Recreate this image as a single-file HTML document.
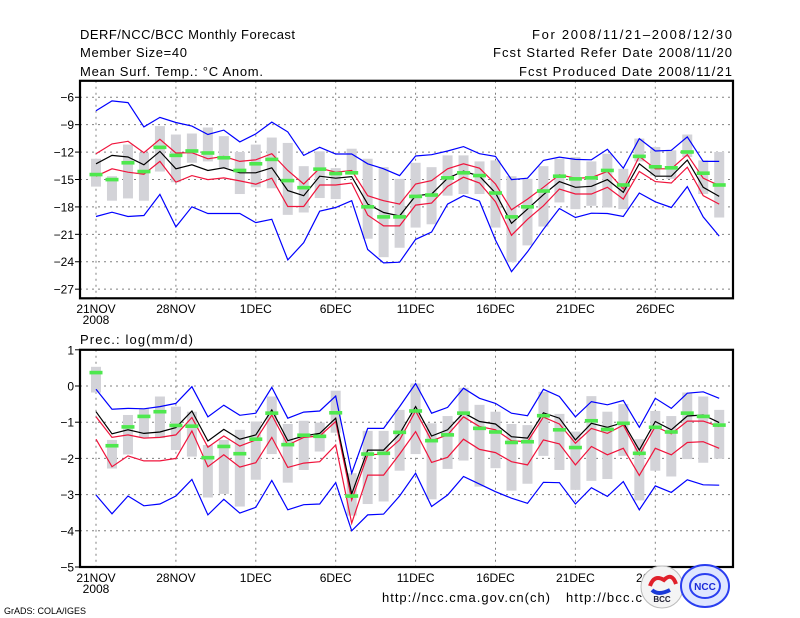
<!DOCTYPE html>
<html><head><meta charset="utf-8"><style>
html,body{margin:0;padding:0;background:#fff;}
svg{display:block;font-family:"Liberation Sans",sans-serif;}
</style></head><body>
<svg id="chart" width="800" height="618" viewBox="0 0 800 618" xmlns="http://www.w3.org/2000/svg">
<rect x="0" y="0" width="800" height="618" fill="#fff"/>
<g font-size="13" fill="#000">
<text x="80" y="39" textLength="215">DERF/NCC/BCC Monthly Forecast</text>
<text x="80" y="57" textLength="107">Member Size=40</text>
<text x="80" y="76" textLength="183">Mean Surf. Temp.: °C Anom.</text>
<text x="732" y="39" text-anchor="end" textLength="200">For 2008/11/21–2008/12/30</text>
<text x="732" y="57" text-anchor="end" textLength="239">Fcst Started Refer Date 2008/11/20</text>
<text x="732" y="76" text-anchor="end" textLength="213">Fcst Produced Date 2008/11/21</text>
<text x="80" y="344" textLength="113">Prec.: log(mm/d)</text>
<text x="382" y="602" textLength="168">http://ncc.cma.gov.cn(ch)</text>
<text x="566" y="602" textLength="76">http://bcc.c</text>
<text x="4" y="614" font-size="9">GrADS: COLA/IGES</text>
</g>
<g id="top"></g>
<g id="bot"></g>
<g>
<circle cx="662" cy="587" r="21" fill="#f4f4f4" stroke="#bbb"/>
<path d="M650 586 q4 -12 14 -6 q8 -8 12 4" stroke="#e0202a" stroke-width="4" fill="none"/>
<path d="M652 590 q6 6 18 0" stroke="#1a3ad8" stroke-width="4" fill="none"/>
<text x="662" y="602" font-size="8" text-anchor="middle" font-weight="bold" fill="#223">BCC</text>
</g>
<g>
<ellipse cx="705" cy="586" rx="24" ry="21" fill="#dfe6ff" stroke="#2a3ef0" stroke-width="2"/>
<ellipse cx="705" cy="586" rx="15" ry="12" fill="none" stroke="#2a3ef0" stroke-width="2"/>
<text x="705" y="590" font-size="10" text-anchor="middle" font-weight="bold" fill="#1a2ad8">NCC</text>
</g>
</svg>
<script>
// ---- Temperature panel data (°C anomaly) ----
const xTickLabels = ["21NOV","28NOV","1DEC","6DEC","11DEC","16DEC","21DEC","26DEC"];
const tTicks = [-6,-9,-12,-15,-18,-21,-24,-27];
const tBlueHi = [-7.47,-6.40,-6.59,-9.24,-8.21,-8.76,-9.16,-10.08,-9.60,-10.89,-10.01,-8.72,-9.79,-12.36,-11.48,-12.21,-12.21,-13.28,-13.83,-14.57,-12.43,-12.29,-11.88,-11.40,-12.18,-12.47,-15.01,-14.86,-12.91,-12.55,-12.80,-12.84,-11.70,-13.76,-10.52,-11.88,-11.81,-10.34,-13.02,-13.02];
const tBlueLo = [-19.05,-18.58,-19.05,-18.94,-16.63,-20.19,-17.99,-18.72,-18.72,-18.72,-19.72,-19.35,-23.80,-21.92,-18.47,-18.06,-17.32,-22.66,-24.13,-24.05,-21.55,-20.74,-17.69,-16.77,-17.36,-21.63,-25.08,-22.91,-20.45,-18.17,-19.16,-18.69,-18.72,-19.05,-16.48,-17.44,-18.06,-15.78,-19.09,-21.19];
const tRedHi = [-12.18,-11.11,-10.82,-12.07,-10.60,-12.10,-12.07,-12.73,-12.47,-13.02,-12.84,-12.18,-14.01,-15.49,-13.76,-14.20,-14.01,-16.77,-17.32,-17.69,-15.49,-15.12,-13.83,-13.28,-13.76,-15.49,-18.32,-17.14,-15.85,-14.49,-14.86,-14.79,-14.13,-16.04,-12.47,-13.83,-13.83,-12.29,-14.86,-15.67];
const tMean = [-13.28,-12.36,-12.54,-13.39,-11.92,-13.83,-13.39,-14.01,-13.72,-14.27,-14.27,-13.72,-16.22,-16.77,-14.64,-14.86,-14.68,-17.69,-18.61,-18.98,-16.77,-16.59,-14.86,-14.09,-14.64,-16.48,-19.79,-18.24,-16.66,-15.23,-15.85,-15.74,-15.01,-16.40,-13.28,-14.64,-14.64,-12.88,-15.85,-16.85];
const tRedLo = [-14.64,-13.83,-14.20,-14.42,-13.02,-15.30,-14.57,-15.01,-14.82,-15.15,-15.52,-14.86,-17.95,-17.95,-15.60,-15.60,-15.38,-18.90,-20.08,-20.08,-17.80,-17.58,-15.74,-14.75,-15.38,-17.43,-21.11,-19.35,-17.88,-16.04,-16.59,-16.59,-15.85,-17.14,-14.13,-15.23,-15.38,-13.65,-16.77,-17.69];
const tGreen = [-14.46,-15.01,-13.17,-14.13,-11.48,-12.36,-11.88,-12.10,-12.62,-14.01,-13.28,-12.80,-15.12,-15.89,-13.87,-14.35,-14.27,-17.99,-19.09,-19.09,-16.85,-16.70,-14.82,-14.27,-14.57,-16.48,-19.09,-17.99,-16.26,-14.64,-14.93,-14.82,-14.01,-15.60,-12.47,-13.61,-13.72,-11.99,-14.31,-15.60];
const tBoxHi = [-12.73,-14.64,-11.18,-12.07,-9.16,-10.08,-9.97,-9.31,-10.26,-11.99,-11.18,-10.41,-11.00,-13.54,-11.92,-13.76,-11.63,-12.73,-13.65,-14.93,-13.17,-13.65,-12.36,-12.36,-13.02,-12.91,-14.64,-14.93,-13.54,-12.73,-12.54,-13.02,-12.18,-13.83,-10.52,-11.44,-11.81,-10.08,-12.91,-11.99];
const tBoxLo = [-15.78,-17.32,-17.07,-17.32,-14.13,-15.30,-13.17,-13.02,-13.72,-16.59,-15.85,-15.96,-18.87,-18.61,-17.03,-17.14,-14.20,-21.48,-23.50,-22.47,-20.26,-19.90,-16.77,-16.59,-16.59,-20.26,-24.05,-22.21,-20.15,-17.51,-18.24,-17.88,-18.06,-18.24,-13.02,-14.57,-14.93,-12.54,-16.59,-19.16];
// ---- Precipitation panel data (log mm/d) ----
const pTicks = [1,0,-1,-2,-3,-4,-5];
const pBlueHi = [-0.09,-0.64,-0.62,-0.63,-0.57,-0.48,-0.02,-0.85,-0.53,-0.81,-0.75,-0.04,-0.89,-0.72,-0.69,-0.28,-2.41,-1.17,-1.17,-0.57,0.07,-0.75,-0.59,-0.06,-0.34,-0.48,-0.75,-0.82,-0.09,-0.29,-0.85,-0.43,-0.52,-0.40,-1.14,-0.34,-0.62,-0.20,-0.16,-0.34];
const pBlueLo = [-3.01,-3.53,-3.04,-3.31,-3.26,-3.04,-2.58,-3.56,-3.13,-3.51,-3.35,-2.61,-3.42,-3.28,-3.26,-2.67,-4.00,-3.56,-3.54,-3.04,-2.41,-3.33,-3.01,-2.50,-2.71,-2.92,-3.10,-3.24,-2.66,-2.67,-3.26,-2.81,-3.05,-2.64,-3.42,-2.76,-2.94,-2.59,-2.73,-2.74];
const pRedHi = [-0.85,-1.42,-1.35,-1.44,-1.42,-1.35,-0.87,-1.69,-1.38,-1.66,-1.49,-0.80,-1.63,-1.42,-1.38,-0.98,-3.15,-1.90,-1.88,-1.49,-0.69,-1.51,-1.35,-0.85,-1.12,-1.21,-1.51,-1.54,-0.86,-1.05,-1.58,-1.17,-1.31,-1.08,-1.90,-1.12,-1.32,-0.97,-0.97,-1.12];
const pMean = [-0.71,-1.32,-1.21,-1.31,-1.27,-1.15,-0.69,-1.52,-1.20,-1.47,-1.35,-0.66,-1.51,-1.38,-1.31,-0.89,-2.98,-1.77,-1.77,-1.32,-0.57,-1.38,-1.21,-0.74,-0.98,-1.05,-1.40,-1.44,-0.74,-0.89,-1.49,-1.03,-1.14,-1.01,-1.77,-0.98,-1.21,-0.83,-0.80,-1.01];
const pRedLo = [-1.47,-2.23,-1.93,-2.07,-2.07,-2.00,-1.24,-2.23,-1.90,-2.24,-2.12,-1.42,-2.25,-2.13,-2.09,-1.63,-3.79,-2.46,-2.46,-1.88,-1.26,-2.11,-1.97,-1.47,-1.75,-1.84,-2.09,-2.18,-1.49,-1.60,-2.18,-1.67,-1.90,-1.72,-2.47,-1.72,-1.90,-1.56,-1.54,-1.72];
const pGreen = [0.37,-1.65,-1.13,-0.84,-0.71,-1.09,-1.11,-1.98,-1.67,-1.87,-1.47,-0.75,-1.62,-1.36,-1.39,-0.74,-3.04,-1.88,-1.86,-1.28,-0.69,-1.51,-1.35,-0.75,-1.17,-1.27,-1.56,-1.54,-0.82,-1.21,-1.70,-0.96,-1.20,-1.03,-1.86,-1.14,-1.27,-0.75,-0.84,-1.08];
const pBoxHi = [0.53,-1.49,-0.80,-0.62,-0.29,-0.57,-0.71,-1.63,-1.49,-1.21,-0.98,-0.29,-1.05,-0.96,-1.01,-0.13,-2.41,-1.24,-1.24,-0.66,0.07,-1.03,-0.83,-0.05,-0.52,-0.71,-1.05,-1.08,-0.16,-0.77,-1.26,-0.28,-0.71,-0.50,-1.47,-0.69,-0.83,-0.18,-0.29,-0.66];
const pBoxLo = [-0.18,-2.28,-1.89,-1.42,-1.44,-1.77,-1.95,-3.08,-2.98,-3.33,-2.59,-1.88,-2.67,-2.32,-1.81,-1.29,-3.58,-3.26,-3.19,-2.34,-1.88,-3.13,-2.29,-2.06,-2.78,-2.27,-2.89,-2.70,-1.93,-2.32,-2.87,-2.62,-2.57,-1.93,-3.16,-2.34,-2.50,-2.02,-2.12,-2.01];

const NS='http://www.w3.org/2000/svg';
const X0=96, DX=15.98;
function xDay(i){return X0+DX*i;}
function mk(tag,attrs,parent){const e=document.createElementNS(NS,tag);for(const k in attrs)e.setAttribute(k,attrs[k]);parent.appendChild(e);return e;}

function panel(g,yTop,yBot,vTop,vBot,ticks,d,name,labY){
  const yS=v=>yTop+(vTop-v)/(vTop-vBot)*(yBot-yTop);
  const L=80,R=733;
  for(const t of ticks){
    const l=mk('line',{x1:L,x2:R,y1:yS(t),y2:yS(t),stroke:'#808080','stroke-dasharray':'2,4'},g);
    
    
    const tk=mk('line',{x1:L-5,x2:L,y1:yS(t),y2:yS(t),stroke:'#000'},g);
    
    
    const tx=mk('text',{x:74,y:yS(t)+4.5,'font-size':12,'text-anchor':'end'},g);
    tx.textContent=(t<0?'−':'')+Math.abs(t);
    
    
  }
  for(let k=0;k<xTickLabels.length;k++){
    const x=xDay(5*k);
    const l=mk('line',{x1:x,x2:x,y1:yTop,y2:yBot,stroke:'#808080','stroke-dasharray':'2,4'},g);
    
    
    const tx=mk('text',{x:x,y:labY,'font-size':12,'text-anchor':'middle'},g);
    tx.textContent=xTickLabels[k];
    
    
  }
  const yr=mk('text',{x:xDay(0),y:labY+11,'font-size':12,'text-anchor':'middle'},g);
  yr.textContent='2008';
  
  
  for(let i=0;i<d.bh.length;i++){
    const y1=yS(d.bh[i]),y2=yS(d.bl[i]);
    const r=mk('rect',{x:xDay(i)-5,y:y1,width:10,height:y2-y1,fill:'#d3d3d8'},g);
    
    
  }
  const line=(arr,col,nm)=>{
    const p=mk('polyline',{points:arr.map((v,i)=>xDay(i).toFixed(1)+','+yS(v).toFixed(1)).join(' '),fill:'none',stroke:col,'stroke-width':1.2},g);
    
    
  };
  line(d.blo,'#0000ff',name+'-min-line');
  line(d.bhi,'#0000ff',name+'-max-line');
  line(d.rlo,'#f0143c',name+'-lower-std-line');
  line(d.rhi,'#f0143c',name+'-upper-std-line');
  line(d.m,'#000',name+'-mean-line');
  for(let i=0;i<d.gr.length;i++){
    const r=mk('rect',{x:xDay(i)-6.5,y:yS(d.gr[i])-1.8,width:13,height:3.6,fill:'#4ee84e'},g);
    
    
  }
  const f=mk('rect',{x:L,y:yTop,width:R-L,height:yBot-yTop,fill:'none',stroke:'#000','stroke-width':2.2},g);
  
  
}
panel(document.getElementById('top'),80.8,298.3,-4.2,-28.0,tTicks,
  {bh:tBoxHi,bl:tBoxLo,bhi:tBlueHi,blo:tBlueLo,rhi:tRedHi,rlo:tRedLo,m:tMean,gr:tGreen},'temp',313);
panel(document.getElementById('bot'),349.8,567,1,-5,pTicks,
  {bh:pBoxHi,bl:pBoxLo,bhi:pBlueHi,blo:pBlueLo,rhi:pRedHi,rlo:pRedLo,m:pMean,gr:pGreen},'precip',582);
</script>
</body></html>
